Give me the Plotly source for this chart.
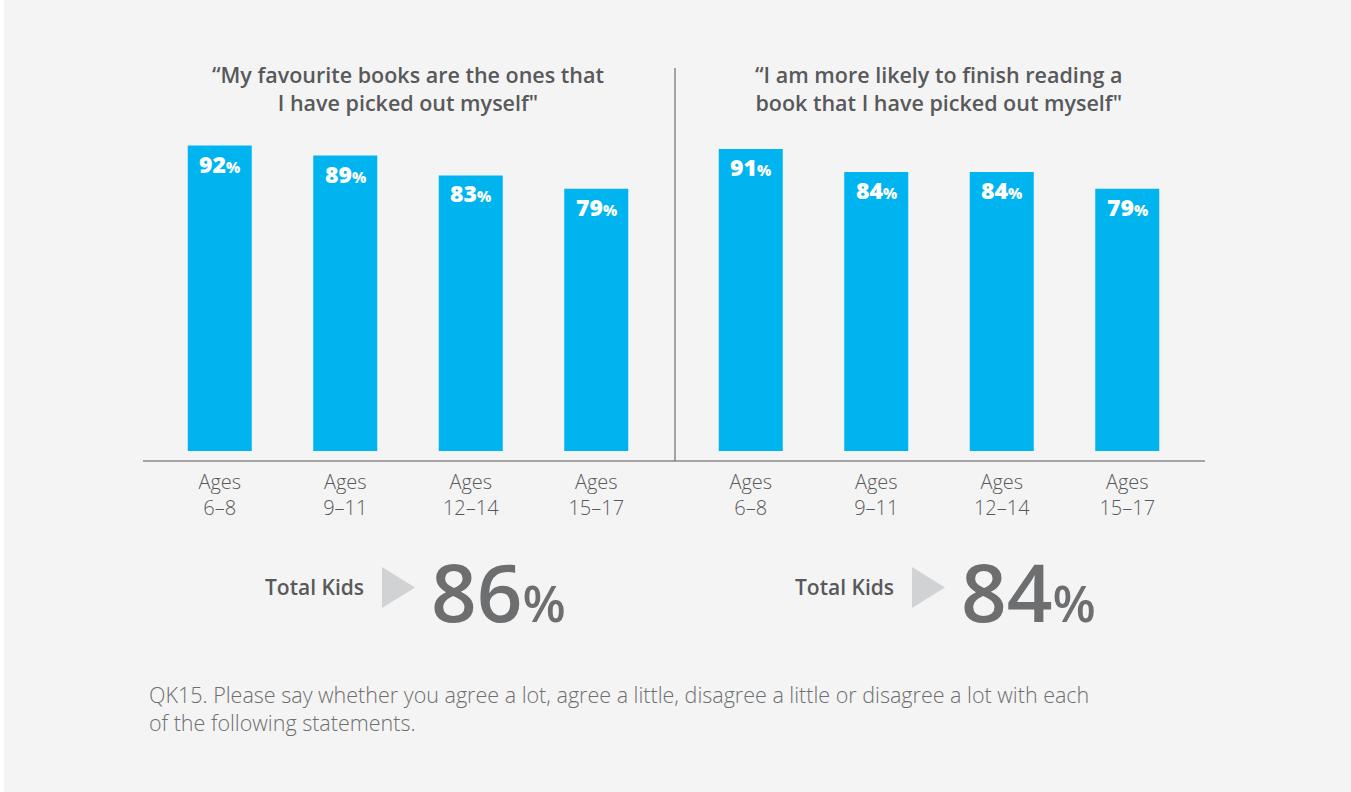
import plotly.graph_objects as go

# Survey answers (% agree) by age group, two statements side by side
ages = ["Ages<br>6–8", "Ages<br>9–11", "Ages<br>12–14", "Ages<br>15–17"]
favourite = [92, 89, 83, 79]
finish = [91, 84, 84, 79]
totals = [86, 84]
titles = [
    "“My favourite books are the ones that<br>I have picked out myself\"",
    "“I am more likely to finish reading a<br>book that I have picked out myself\"",
]
note = ("QK15. Please say whether you agree a lot, agree a little, disagree a little or disagree a lot with each<br>"
        "of the following statements.")

W, H = 1351, 792
BLUE = "#00b5ef"
DARK = "#58595b"
GREY = "#6d6e70"
FONT = "Open Sans"


def px(x):
    return x / W


def py(y):
    return 1 - y / H


fig = go.Figure()

panels = [(favourite, "x", "y"), (finish, "x2", "y2")]
for vals, xa, ya in panels:
    fig.add_trace(go.Bar(
        x=ages, y=vals, xaxis=xa, yaxis=ya,
        marker=dict(color=BLUE, line=dict(width=0)),
        width=0.51, hoverinfo="skip", showlegend=False,
    ))
    # value labels inside the top of each bar
    for a, v in zip(ages, vals):
        fig.add_annotation(
            x=a, y=v, xref=xa, yref=ya, yanchor="top", yshift=0,
            text="%d<span style='font-size:15px'>%%</span>" % v,
            showarrow=False, font=dict(family=FONT, size=23, color="white", weight=800),
        )

ydom = [py(451), py(119)]
axis_x = dict(showgrid=False, zeroline=False, showline=False, ticks="",
              tickfont=dict(family=FONT, size=20, color="#58595b", weight=300),
              ticklabelstandoff=17,
              range=[-0.5, 3.5], fixedrange=True)
axis_y = dict(range=[0, 100], domain=ydom, visible=False, fixedrange=True)

fig.update_layout(
    width=W, height=H,
    margin=dict(l=0, r=0, t=0, b=0),
    paper_bgcolor="#f4f4f4", plot_bgcolor="rgba(0,0,0,0)",
    xaxis=dict(axis_x, domain=[px(157), px(659)], anchor="y"),
    xaxis2=dict(axis_x, domain=[px(688), px(1190)], anchor="y2"),
    yaxis=dict(axis_y, anchor="x"),
    yaxis2=dict(axis_y, anchor="x2"),
    bargap=0.49,
    font=dict(family=FONT),
)

# panel titles
for t, cx in zip(titles, [408, 938]):
    fig.add_annotation(
        x=px(cx), y=py(88), xref="paper", yref="paper", text=t, showarrow=False,
        xanchor="center", yanchor="middle", align="center",
        font=dict(family=FONT, size=21.5, color=DARK, weight=600),
    )

# total kids callouts
for tot, right_x, tri_x, num_x in zip(totals, [366, 896], [382, 912], [429, 959]):
    fig.add_annotation(
        x=px(right_x), y=py(587), xref="paper", yref="paper", text="Total Kids",
        showarrow=False, xanchor="right", yanchor="middle",
        font=dict(family=FONT, size=21, color=DARK, weight=600),
    )
    fig.add_shape(
        type="path", xref="paper", yref="paper", line=dict(width=0), fillcolor="#d1d2d4",
        path="M %f %f L %f %f L %f %f Z" % (px(tri_x), py(567), px(tri_x), py(608), px(tri_x + 33), py(587.5)),
    )
    fig.add_annotation(
        x=px(num_x), y=py(590), xref="paper", yref="paper",
        text="%d<span style='font-size:50px'>%%</span>" % tot,
        showarrow=False, xanchor="left", yanchor="middle",
        font=dict(family=FONT, size=80, color=GREY, weight=600),
    )

# footnote
fig.add_annotation(
    x=px(147), y=py(708.5), xref="paper", yref="paper", text=note, showarrow=False,
    xanchor="left", yanchor="middle", align="left",
    font=dict(family=FONT, size=21.5, color=GREY, weight=300),
)

# baseline and divider
fig.add_shape(type="line", xref="paper", yref="paper", x0=px(143), x1=px(1205), y0=py(461), y1=py(461),
              line=dict(color="#8a8a8a", width=1.5))
fig.add_shape(type="line", xref="paper", yref="paper", x0=px(675), x1=px(675), y0=py(68), y1=py(461),
              line=dict(color="#8a8a8a", width=1.5))
# white strip on the left edge
fig.add_shape(type="rect", xref="paper", yref="paper", x0=0, x1=px(4), y0=0, y1=1,
              line=dict(width=0), fillcolor="white")

# page body margin would shift the figure by 8px
fig.write_html("out.html", config={"displayModeBar": False},
               post_script="document.body.style.margin='0';")
